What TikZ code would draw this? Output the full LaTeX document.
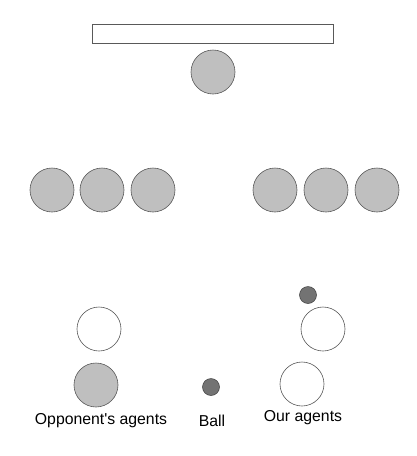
\documentclass[tikz,border=0pt]{standalone}
\usepackage{fontspec}
\setmainfont{Liberation Sans}
\tikzstyle{oppagent} = [circle, draw = black!65, fill = gray!50, line width = 0.6pt, minimum size = 44pt, inner sep = 0pt]
\tikzstyle{ouragent} = [circle, draw = black!65, fill = white, line width = 0.6pt, minimum size = 44pt, inner sep = 0pt]
\tikzstyle{ballmark} = [circle, draw = black!75, fill = black!55, line width = 0.5pt, minimum size = 17pt, inner sep = 0pt]
\tikzstyle{legend} = [font = \fontsize{15.8}{18}\selectfont, inner sep = 0pt]

\begin{document}
\begin{tikzpicture}[x = 1pt, y = -1pt]
  \useasboundingbox (0, 0) rectangle (416, 456);
  \node[rectangle, draw = black!65, line width = 0.6pt, minimum width = 241pt, minimum height = 19pt, inner sep = 0pt] (goal) at (212.5, 33.5) {};
  \node[oppagent] (keeper) at (213, 72) {};
  \foreach \i\x in {0/52, 1/102, 2/153, 3/275, 4/326, 5/377} {
    \node[oppagent] (def\i) at (\x, 190) {};
  }
  \node[ouragent] (ourl) at (99, 329) {};
  \node[ouragent] (ourr) at (323, 329) {};
  \node[ballmark] (ballr) at (308, 295) {};
  \node[oppagent] (keyopp) at (96, 385) {};
  \node[ballmark] (keyball) at (211, 387) {};
  \node[ouragent] (keyour) at (302, 384) {};
  \node[legend] (oppname) at (101, 421) {Opponent\textquotesingle s agents};
  \node[legend] (ballname) at (212, 421) {Ball};
  \node[legend] (ourname) at (303, 418) {Our agents};
\end{tikzpicture}
\end{document}
